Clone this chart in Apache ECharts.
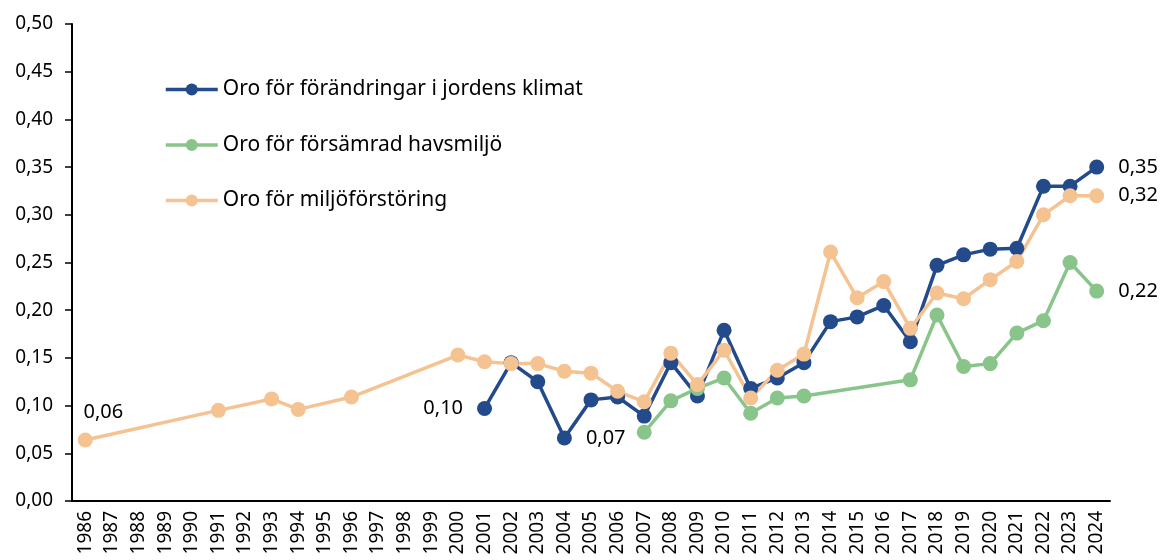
<!DOCTYPE html>
<html>
<head>
<meta charset="utf-8">
<script src="https://cdn.jsdelivr.net/npm/echarts@6/dist/echarts.min.js"></script>
<style>
  html, body { margin: 0; padding: 0; background: #fff; }
  #chart { width: 1162px; height: 560px; }
</style>
</head>
<body>
<div id="chart"></div>
<script>
var years = [];
for (var y = 1986; y <= 2024; y++) years.push(String(y));

var seriesNames = ['Oro för förändringar i jordens klimat', 'Oro för försämrad havsmiljö', 'Oro för miljöförstöring'];

// 1986..2024, null = ingen mätning
var klimat = [
  null, null, null, null, null, null, null, null, null, null,
  null, null, null, null, null, 0.097, 0.145, 0.125, 0.066, 0.106,
  0.109, 0.089, 0.145, 0.110, 0.179, 0.118, 0.129, 0.145, 0.188, 0.193,
  0.205, 0.167, 0.247, 0.258, 0.264, 0.265, 0.330, 0.330, 0.350
];
var havsmiljo = [
  null, null, null, null, null, null, null, null, null, null,
  null, null, null, null, null, null, null, null, null, null,
  null, 0.072, 0.105, 0.118, 0.129, 0.092, 0.108, 0.110, null, null,
  null, 0.127, 0.195, 0.141, 0.144, 0.176, 0.189, 0.250, 0.220
];
var miljoforstoring = [
  0.064, null, null, null, null, 0.095, null, 0.107, 0.096, null,
  0.109, null, null, null, 0.153, 0.146, 0.144, 0.144, 0.136, 0.134,
  0.115, 0.104, 0.155, 0.122, 0.158, 0.108, 0.137, 0.154, 0.261, 0.213,
  0.230, 0.181, 0.218, 0.212, 0.232, 0.251, 0.300, 0.320, 0.320
];

// which points carry a value label, and where
var klimatLabels = { '2001': 'left', '2004': 'right', '2024': 'right' };
var havsLabels = { '2024': 'right' };
var miljoLabels = { '1986': 'top', '2024': 'right' };

var colors = ['#234a8b', '#89c58a', '#f5c291'];

function fmt(v) { return v.toFixed(2).replace('.', ','); }

function buildData(values, labels) {
  return values.map(function (v, i) {
    var pos = labels[years[i]];
    if (v === null || !pos) return v;
    return {
      value: v,
      label: {
        show: true, position: pos, distance: pos === 'top' ? 10 : 14,
        offset: pos === 'top' ? [18, 0] : [0, 0],
        color: '#000', fontSize: 20, fontFamily: 'Noto Sans',
        formatter: function (p) { return fmt(p.value); }
      }
    };
  });
}

function lineSeries(name, values, labels, color) {
  return {
    name: name,
    type: 'line',
    data: buildData(values, labels),
    connectNulls: true,
    symbol: 'circle',
    symbolSize: 15,
    lineStyle: { color: color, width: 3.5 },
    itemStyle: { color: color },
    emphasis: { disabled: true }
  };
}

var chart = echarts.init(document.getElementById('chart'));
chart.setOption({
  animation: false,
  textStyle: { fontFamily: 'Noto Sans' },
  grid: { left: 72, right: 52, top: 24, bottom: 59 },
  legend: {
    orient: 'vertical',
    left: 159,
    top: 74,
    itemWidth: 52,
    itemHeight: 15,
    itemGap: 34.5,
    lineStyle: { width: 3.5 },
    textStyle: { color: '#000', fontSize: 21, fontFamily: 'Noto Sans' },
    data: seriesNames
  },
  xAxis: {
    type: 'category',
    data: years,
    boundaryGap: true,
    axisLine: { lineStyle: { color: '#000', width: 2 } },
    axisTick: { show: false },
    axisLabel: { rotate: 90, interval: 0, color: '#000', fontSize: 19, margin: 10 }
  },
  yAxis: {
    type: 'value',
    min: 0,
    max: 0.5,
    interval: 0.05,
    splitLine: { show: false },
    axisLine: { show: true, lineStyle: { color: '#000', width: 2 } },
    axisTick: { show: true, length: 7, lineStyle: { color: '#000', width: 1.5 } },
    axisLabel: { color: '#000', fontSize: 19, margin: 19, formatter: fmt }
  },
  series: [
    lineSeries(seriesNames[0], klimat, klimatLabels, colors[0]),
    lineSeries(seriesNames[1], havsmiljo, havsLabels, colors[1]),
    lineSeries(seriesNames[2], miljoforstoring, miljoLabels, colors[2])
  ]
});
</script>
</body>
</html>
